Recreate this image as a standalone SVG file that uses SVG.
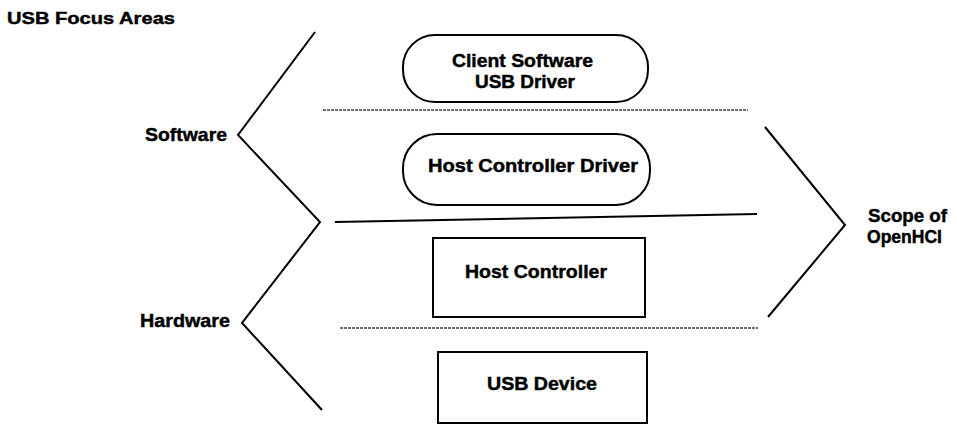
<svg xmlns="http://www.w3.org/2000/svg" width="957" height="426" viewBox="0 0 957 426">
  <style>
    .lbl { font-family: "Liberation Sans", Arial, sans-serif; font-weight: bold; font-size: 19px; fill: #000; stroke: #000; stroke-width: 0.45; }
    .title { font-size: 17px; }
    .small { font-size: 18px; }
    .box { fill: #fff; stroke: #000; stroke-width: 2; }
    .brace { fill: none; stroke: #000; stroke-width: 2; stroke-linejoin: miter; }
    .solid { stroke: #000; stroke-width: 2; }
    .dotted { stroke: #6e6e6e; stroke-width: 2.2; stroke-dasharray: 3 1; }
  </style>
  <rect width="957" height="426" fill="#fff"/>

  <text class="lbl title" x="7" y="24" textLength="168" lengthAdjust="spacingAndGlyphs">USB Focus Areas</text>

  <!-- layer separators and scope braces -->
  <g id="connectors">
    <line class="dotted" x1="323" y1="110" x2="748" y2="110"/>
    <line class="solid" x1="335" y1="222" x2="757" y2="214"/>
    <line class="dotted" x1="340" y1="328" x2="758" y2="328"/>
    <polyline class="brace" points="315,32 238,135 320,222 242,323 322,410"/>
    <polyline class="brace" points="765,127 845,225 768,317"/>
  </g>

  <g id="label-software">
    <text class="lbl" x="145" y="141" textLength="82" lengthAdjust="spacingAndGlyphs">Software</text>
  </g>
  <g id="label-hardware">
    <text class="lbl" x="140" y="327" textLength="90" lengthAdjust="spacingAndGlyphs">Hardware</text>
  </g>
  <g id="label-scope">
    <text class="lbl small" x="868" y="222" textLength="79" lengthAdjust="spacingAndGlyphs">Scope of</text>
    <text class="lbl small" x="867" y="243" textLength="75" lengthAdjust="spacingAndGlyphs">OpenHCI</text>
  </g>

  <g id="client-software">
    <rect class="box" x="403" y="35" width="245" height="67" rx="32" ry="32"/>
    <text class="lbl small" x="452" y="67" textLength="141" lengthAdjust="spacingAndGlyphs">Client Software</text>
    <text class="lbl small" x="475" y="88" textLength="100" lengthAdjust="spacingAndGlyphs">USB Driver</text>
  </g>

  <g id="host-controller-driver">
    <rect class="box" x="403" y="134" width="247" height="71" rx="34" ry="34"/>
    <text class="lbl" x="428" y="172" textLength="210" lengthAdjust="spacingAndGlyphs">Host Controller Driver</text>
  </g>

  <g id="host-controller">
    <rect class="box" x="433" y="238" width="212" height="79"/>
    <text class="lbl" x="465" y="278" textLength="142" lengthAdjust="spacingAndGlyphs">Host Controller</text>
  </g>

  <g id="usb-device">
    <rect class="box" x="438" y="352" width="209" height="71"/>
    <text class="lbl" x="487" y="390" textLength="110" lengthAdjust="spacingAndGlyphs">USB Device</text>
  </g>
</svg>
